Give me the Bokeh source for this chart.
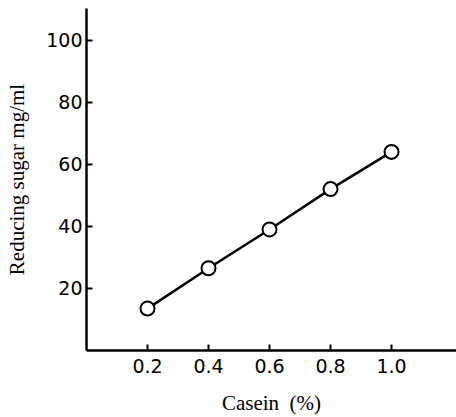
from bokeh.plotting import figure
from bokeh.models import FixedTicker, Range1d
from bokeh.embed import file_html
from bokeh.resources import INLINE

casein = [0.2, 0.4, 0.6, 0.8, 1.0]
sugar = [13.5, 26.5, 39, 52, 64]
x_ticks = [0.2, 0.4, 0.6, 0.8, 1.0]
y_ticks = [20, 40, 60, 80, 100]

p = figure(width=456, height=417, output_backend="svg", toolbar_location=None,
           x_range=Range1d(0, 1.213), y_range=Range1d(0, 110.2),
           min_border_left=86, min_border_right=0, min_border_top=8, min_border_bottom=66)
p.outline_line_color = None
p.xgrid.visible = False
p.ygrid.visible = False

p.line(casein, sugar, line_color="black", line_width=2.5)
p.scatter(casein, sugar, marker="circle", size=14, fill_color="white",
          line_color="black", line_width=2)

for ax in (p.xaxis[0], p.yaxis[0]):
    ax.axis_line_color = "black"
    ax.axis_line_width = 2.5
    ax.major_tick_line_color = "black"
    ax.major_tick_line_width = 2
    ax.major_tick_in = 6
    ax.major_tick_out = 0
    ax.minor_tick_line_color = None
    ax.major_label_text_font = "DejaVu Sans"
    ax.major_label_text_font_size = "19px"
    ax.major_label_text_color = "black"
    ax.axis_label_text_font = "Liberation Serif"
    ax.axis_label_text_font_style = "normal"
    ax.axis_label_text_font_size = "21px"
    ax.axis_label_text_color = "black"

p.xaxis.ticker = FixedTicker(ticks=x_ticks)
p.yaxis.ticker = FixedTicker(ticks=y_ticks)
p.xaxis.major_label_overrides = {0.2: "0.2", 0.4: "0.4", 0.6: "0.6", 0.8: "0.8", 1.0: "1.0"}
p.xaxis.major_label_standoff = 8
p.yaxis.major_label_standoff = 4
p.xaxis.axis_label = "Casein\u00a0\u00a0(%)"
p.yaxis.axis_label = "Reducing sugar mg/ml"
p.xaxis.axis_label_standoff = 15
p.yaxis.axis_label_standoff = 14

open("out.html", "w").write(file_html(p, INLINE))
